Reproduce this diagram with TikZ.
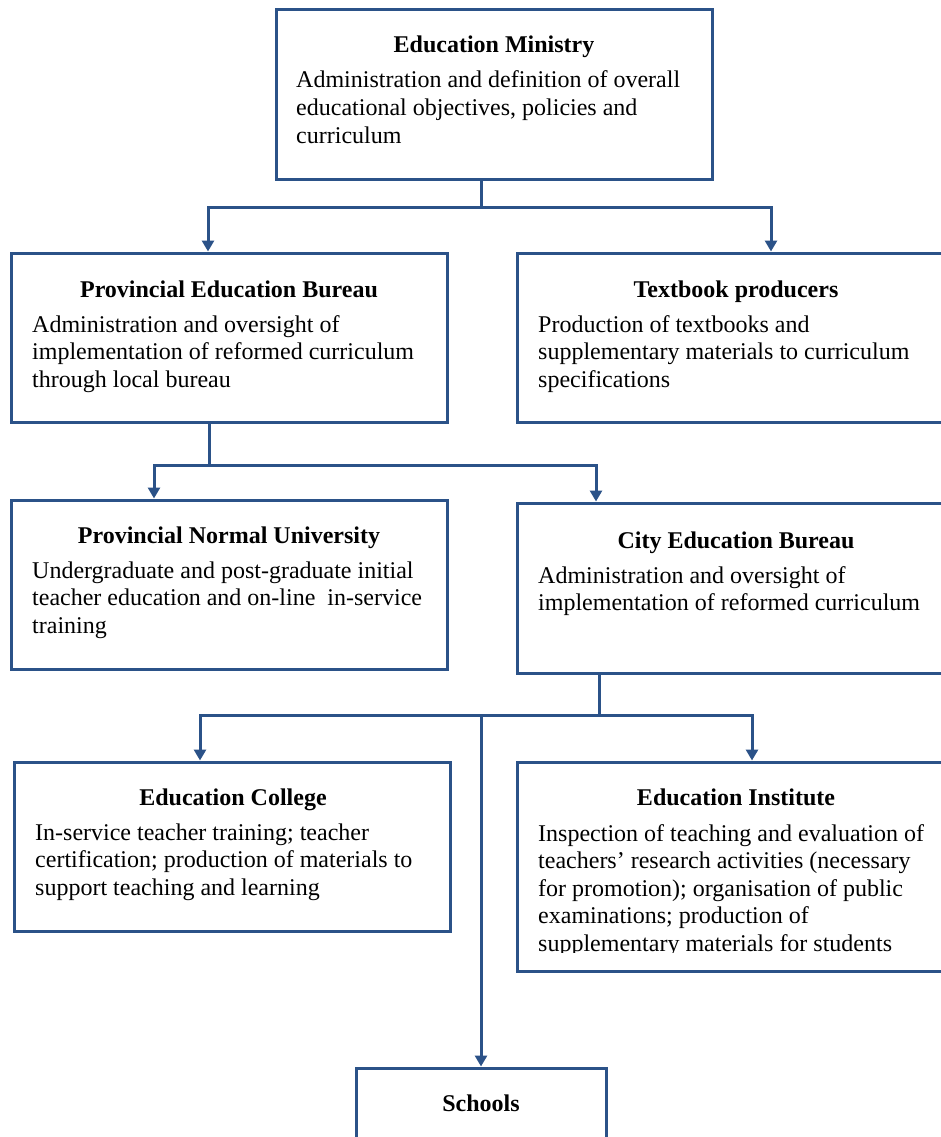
\documentclass[tikz,border=0pt]{standalone}
\usepackage{fontspec}
\setmainfont{Liberation Serif}
\usetikzlibrary{arrows.meta}
\definecolor{boxblue}{RGB}{43,82,136}
\tikzset{
  box/.style={draw=boxblue, line width=3pt, rectangle, inner sep=0pt, fill=white},
  ttl/.style={font=\fontsize{24}{27.6}\selectfont\bfseries, inner sep=0pt, anchor=base},
  bdy/.style={font=\fontsize{24}{27.6}\selectfont, inner sep=0pt, anchor=base west},
  link/.style={draw=boxblue, line width=3pt},
  twoarr/.style={link, {Triangle[width=12pt,length=11pt]}-{Triangle[width=12pt,length=11pt]}},
  onearr/.style={link, -{Triangle[width=12pt,length=11pt]}}
}
\begin{document}
\begin{tikzpicture}[x=1pt,y=-1pt]
\useasboundingbox (0,0) rectangle (941,1137);
\clip (0,0) rectangle (941,1137);
\fill[white] (0,0) rectangle (941,1137);

% boxes
\node[box, minimum width=436, minimum height=169] (min) at (494,94.5) {};
\node[box, minimum width=436, minimum height=169] (peb) at (229,337.5) {};
\node[box, minimum width=436, minimum height=169] (tbp) at (735,337.5) {};
\node[box, minimum width=436, minimum height=169] (pnu) at (229,584.5) {};
\node[box, minimum width=436, minimum height=170] (ceb) at (735,588) {};
\node[box, minimum width=436, minimum height=169] (ecol) at (232,846.5) {};
\node[box, minimum width=436, minimum height=209] (einst) at (735,866.5) {};
\node[box, minimum width=250, minimum height=142] (sch) at (481,1139) {};

% Education Ministry
\node[ttl] (tmin) at (494,53) {Education Ministry};
\node[bdy] (bmin1) at (296,88) {Administration and definition of overall};
\node[bdy] (bmin2) at (296,115.6) {educational objectives, policies and};
\node[bdy] (bmin3) at (296,143.2) {curriculum};

% Provincial Education Bureau
\node[ttl] (tpeb) at (229,297) {Provincial Education Bureau};
\node[bdy] (bpeb1) at (32,332) {Administration and oversight of};
\node[bdy] (bpeb2) at (32,359.6) {implementation of reformed curriculum};
\node[bdy] (bpeb3) at (32,387.2) {through local bureau};

% Textbook producers
\node[ttl] (ttbp) at (736,297) {Textbook producers};
\node[bdy] (btbp1) at (538,332) {Production of textbooks and};
\node[bdy] (btbp2) at (538,359.6) {supplementary materials to curriculum};
\node[bdy] (btbp3) at (538,387.2) {specifications};

% Provincial Normal University
\node[ttl] (tpnu) at (229,543) {Provincial Normal University};
\node[bdy] (bpnu1) at (32,578) {Undergraduate and post-graduate initial};
\node[bdy] (bpnu2) at (32,605.6) {teacher education and on-line\ \ in-service};
\node[bdy] (bpnu3) at (32,633.2) {training};

% City Education Bureau
\node[ttl] (tceb) at (736,548) {City Education Bureau};
\node[bdy] (bceb1) at (538,583) {Administration and oversight of};
\node[bdy] (bceb2) at (538,610.6) {implementation of reformed curriculum};

% Education College
\node[ttl] (tecol) at (233,805) {Education College};
\node[bdy] (becol1) at (35,840) {In-service teacher training; teacher};
\node[bdy] (becol2) at (35,867.6) {certification; production of materials to};
\node[bdy] (becol3) at (35,895.2) {support teaching and learning};

% Education Institute
\node[ttl] (teinst) at (736,805) {Education Institute};
\node[bdy] (beinst1) at (538,841) {Inspection of teaching and evaluation of};
\node[bdy] (beinst2) at (538,868.6) {teachers' research activities (necessary};
\node[bdy] (beinst3) at (538,896.2) {for promotion); organisation of public};
\node[bdy] (beinst4) at (538,923.8) {examinations; production of};
\begin{scope}
\clip (517,930) rectangle (941,952);
\node[bdy] (beinst5) at (538,951.4) {supplementary materials for students};
\end{scope}

% Schools
\node[ttl] (tsch) at (481,1111) {Schools};

% connectors
\coordinate (h1L) at (208,207);
\coordinate (h1R) at (771,207);
\draw[link] ([xshift=-13pt]min.south) -- ([xshift=-13pt]min.south |- h1L);
\draw[twoarr] (h1L |- peb.north) -- (h1L) -- (h1R) -- (h1R |- tbp.north);

\coordinate (h2L) at (154,465);
\coordinate (h2R) at (596,465);
\draw[link] ([xshift=-20pt]peb.south) -- ([xshift=-20pt]peb.south |- h2L);
\draw[twoarr] (h2L |- pnu.north) -- (h2L) -- (h2R) -- (h2R |- ceb.north);

\coordinate (h3L) at (200,715);
\coordinate (h3R) at (752,715);
\coordinate (h3M) at (481,715);
\draw[link] ([xshift=-136pt]ceb.south) -- ([xshift=-136pt]ceb.south |- h3L);
\draw[twoarr] (h3L |- ecol.north) -- (h3L) -- (h3R) -- (h3R |- einst.north);
\draw[onearr] (h3M) -- (sch.north);
\end{tikzpicture}
\end{document}
